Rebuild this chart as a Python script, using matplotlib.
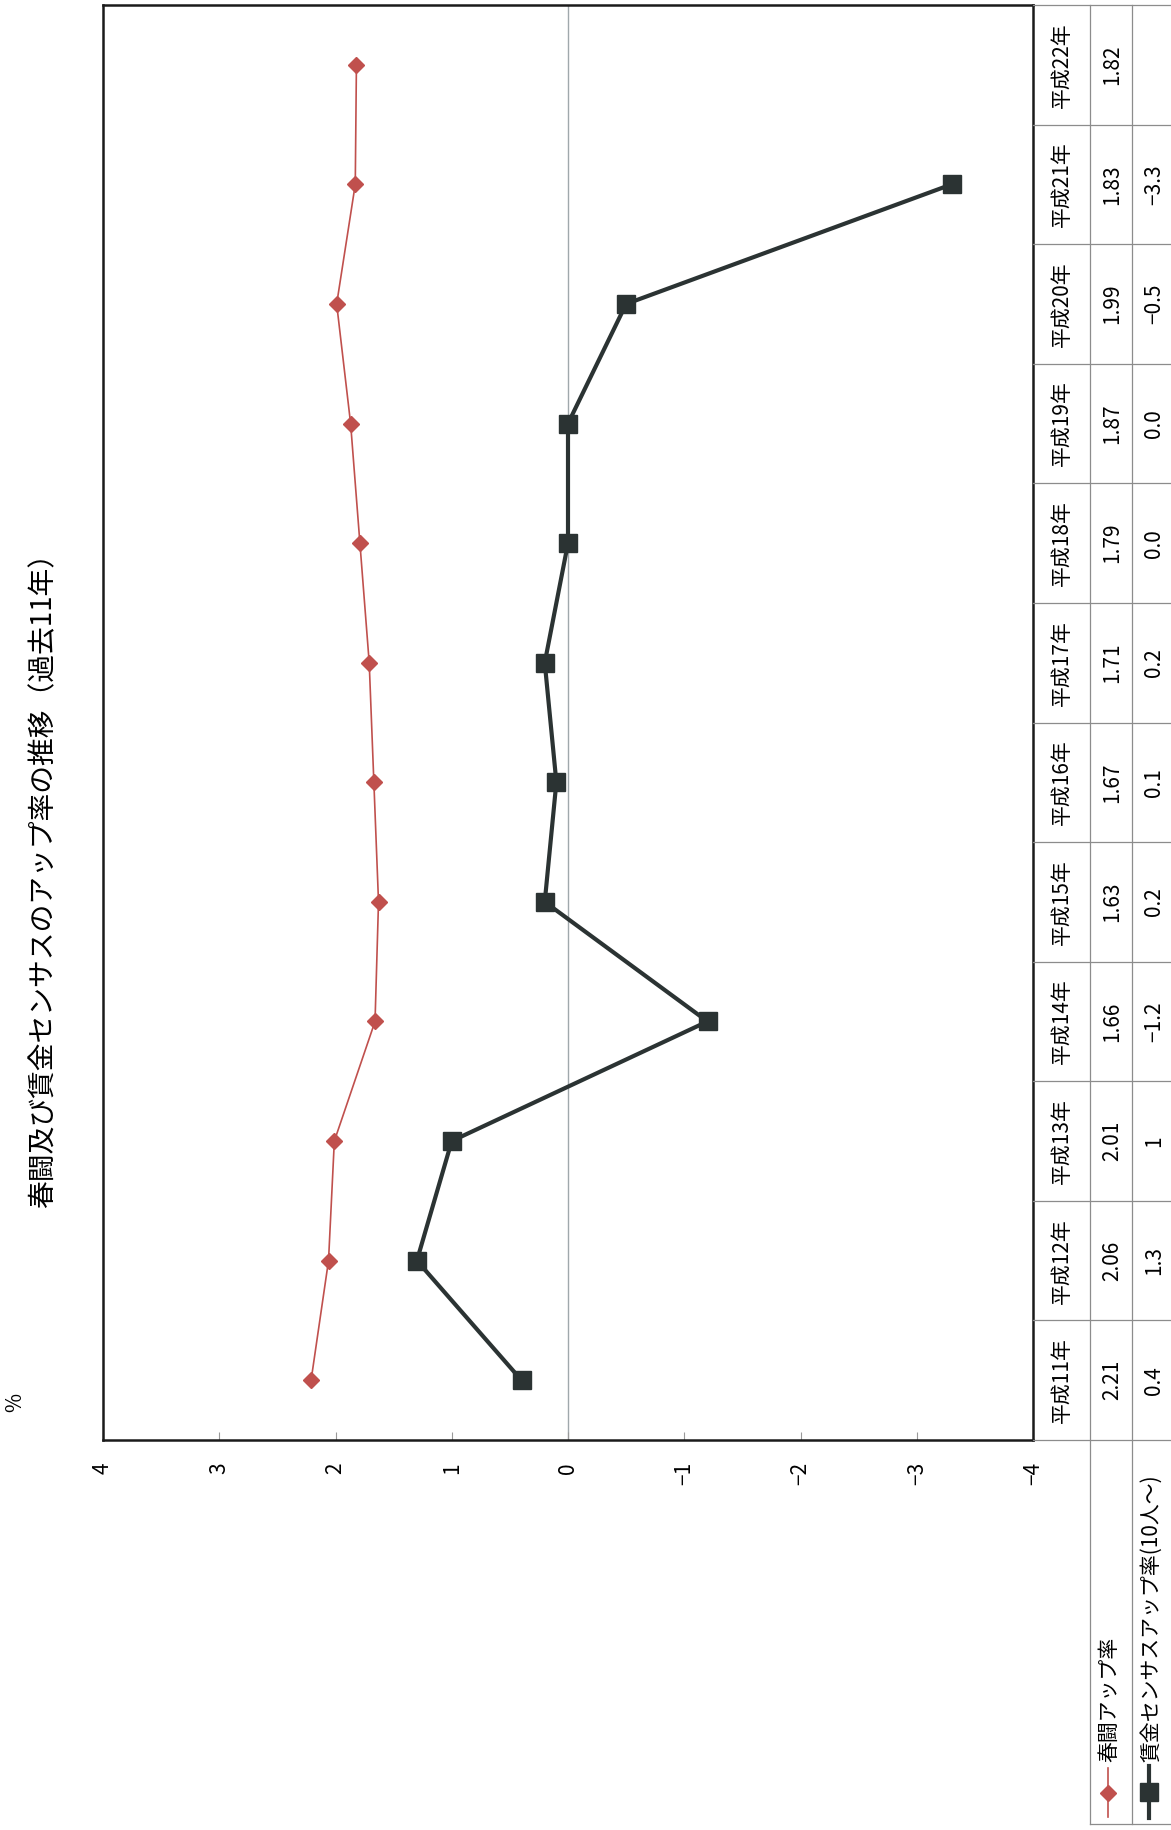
import numpy as np
import matplotlib
matplotlib.use('Agg')
import matplotlib.pyplot as plt

plt.rcParams['font.family'] = ['Noto Sans CJK JP', 'DejaVu Sans']

# data (chart is printed rotated 90 degrees)
years = ['平成11年', '平成12年', '平成13年', '平成14年', '平成15年', '平成16年',
         '平成17年', '平成18年', '平成19年', '平成20年', '平成21年', '平成22年']
shunto = [2.21, 2.06, 2.01, 1.66, 1.63, 1.67, 1.71, 1.79, 1.87, 1.99, 1.83, 1.82]
census = [0.4, 1.3, 1.0, -1.2, 0.2, 0.1, 0.2, 0.0, 0.0, -0.5, -3.3, np.nan]
shunto_labels = ['2.21', '2.06', '2.01', '1.66', '1.63', '1.67',
                 '1.71', '1.79', '1.87', '1.99', '1.83', '1.82']
census_labels = ['0.4', '1.3', '1', '−1.2', '0.2', '0.1',
                 '0.2', '0.0', '0.0', '−0.5', '−3.3', '']
value_ticks = [4, 3, 2, 1, 0, -1, -2, -3, -4]
value_tick_labels = ['4', '3', '2', '1', '0', '−1', '−2', '−3', '−4']
series_names = ['春闘アップ率', '賃金センサスアップ率(10人～)']
title = '春闘及び賃金センサスのアップ率の推移（過去11年）'

red = '#c0504d'
dark = '#2b3333'
grid_gray = '#a0a8ac'

W, H = 1171, 1830
def fx(px):
    return px / W
def fy(py):
    return 1 - py / H

fig = plt.figure(figsize=(W / 100, H / 100), dpi=100)

# main plot area
ax = fig.add_axes([fx(103), fy(1440), fx(1033) - fx(103), fy(5) - fy(1440)])
pos = np.arange(len(years))
ax.axvline(0, color=grid_gray, lw=1.0, zorder=1)
ax.plot(shunto, pos, color=red, lw=1.2, marker='D', ms=8, zorder=3)
ax.plot(census, pos, color=dark, lw=3.0, marker='s', ms=13, zorder=2)
ax.set_xlim(4, -4)
ax.set_ylim(-0.5, len(years) - 0.5)
ax.set_xticks(value_ticks)
ax.set_xticklabels(value_tick_labels, rotation=90, fontsize=15, va='top')
ax.tick_params(axis='x', direction='in', length=6, width=0.8, color='#999999', pad=16)
ax.set_yticks([])
for s in ax.spines.values():
    s.set_linewidth(1.8)
    s.set_color('#1a1a1a')

# data table to the right
tax = fig.add_axes([fx(1033), fy(1440), fx(1180) - fx(1033), fy(5) - fy(1440)])
tax.set_xlim(0, 147)
tax.set_ylim(-0.5, len(years) - 0.5)
tax.axis('off')
unit = 1435 / len(years)
def ty(py):
    return -0.5 - (py - 1440) / unit

line_kw = dict(color='#8c8c8c', lw=0.9, clip_on=False)
for k in range(len(years) + 1):
    tax.plot([0, 147], [k - 0.5, k - 0.5], **line_kw)
tax.plot([57, 57], [ty(1824), len(years) - 0.5], **line_kw)
tax.plot([99, 99], [ty(1824), len(years) - 0.5], **line_kw)
tax.plot([57, 147], [ty(1824), ty(1824)], **line_kw)

for i in range(len(years)):
    tax.text(29, i, years[i], rotation=90, rotation_mode='anchor',
             ha='center', va='center', fontsize=15)
    tax.text(79, i, shunto_labels[i], rotation=90, rotation_mode='anchor',
             ha='center', va='center', fontsize=15)
    tax.text(121, i, census_labels[i], rotation=90, rotation_mode='anchor',
             ha='center', va='center', fontsize=15)

# legend keys inside the table
tax.plot([75, 75], [ty(1817), ty(1768)], color=red, lw=1.2, clip_on=False)
tax.plot([75], [ty(1793)], color=red, marker='D', ms=8, clip_on=False)
tax.plot([116, 116], [ty(1818), ty(1766)], color=dark, lw=3.0, clip_on=False)
tax.plot([116], [ty(1792)], color=dark, marker='s', ms=13, clip_on=False)
tax.text(76, ty(1762), series_names[0], rotation=90, rotation_mode='anchor',
         ha='left', va='center', fontsize=15)
tax.text(118, ty(1762), series_names[1], rotation=90, rotation_mode='anchor',
         ha='left', va='center', fontsize=15)

# title and unit
fig.text(fx(43), fy(873), title, rotation=90, ha='center', va='center', fontsize=20)
fig.text(fx(15), fy(1402), '%', rotation=90, ha='center', va='center', fontsize=15)

fig.savefig('out.png', dpi=100, facecolor='white')
